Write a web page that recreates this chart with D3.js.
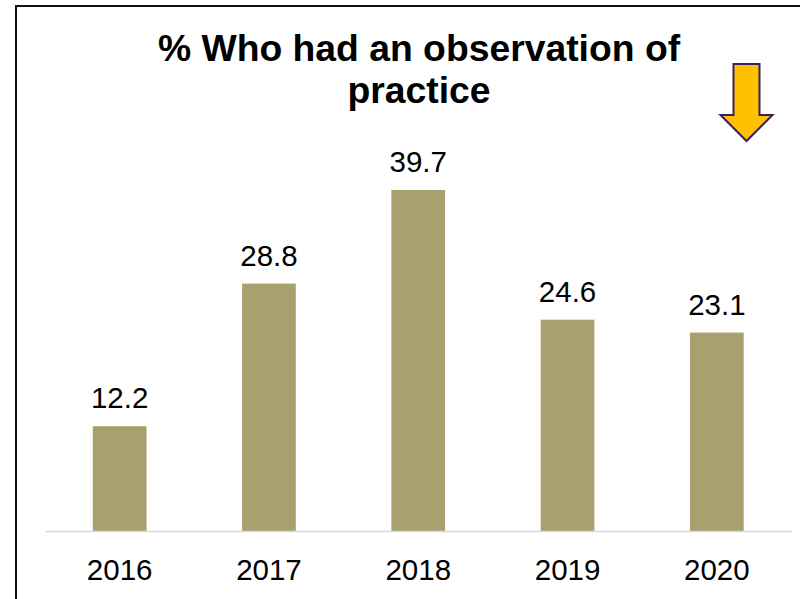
<!DOCTYPE html>
<html>
<head>
<meta charset="utf-8">
<script src="https://cdn.jsdelivr.net/npm/d3@7"></script>
<style>
  html, body { margin: 0; padding: 0; background: #fff; }
  svg { display: block; font-family: "Liberation Sans", Arial, sans-serif; }
</style>
</head>
<body>
<svg id="chart" width="800" height="599"></svg>
<script>
// Share of respondents who had an observation of practice, by year
const years = ["2016", "2017", "2018", "2019", "2020"];
const percentages = [12.2, 28.8, 39.7, 24.6, 23.1];
const titleLines = ["% Who had an observation of", "practice"];

const svg = d3.select("#chart");
const W = 800, H = 599;
const baseY = 531;

// Frame around the slide
svg.append("rect")
  .attr("x", 16).attr("y", 6)
  .attr("width", W).attr("height", H)
  .attr("fill", "none")
  .attr("stroke", "#111")
  .attr("stroke-width", 2);

const x = d3.scaleBand()
  .domain(years)
  .range([45, 791.5])
  .paddingInner(0.64)
  .paddingOuter(0.32);

const y = d3.scaleLinear()
  .domain([0, 40])
  .range([baseY, baseY - 40 * 8.59]);

// Title
svg.append("text")
  .attr("x", 419)
  .attr("text-anchor", "middle")
  .attr("font-weight", "bold")
  .attr("font-size", 37.3)
  .attr("fill", "#000")
  .selectAll("tspan")
  .data(titleLines)
  .join("tspan")
  .attr("x", 419)
  .attr("y", (d, i) => 61 + i * 42)
  .text(d => d);

// Bars
const data = years.map((yr, i) => ({ year: yr, value: percentages[i] }));

svg.append("g")
  .selectAll("rect")
  .data(data)
  .join("rect")
  .attr("x", d => x(d.year))
  .attr("y", d => y(d.value))
  .attr("width", x.bandwidth())
  .attr("height", d => y(0) - y(d.value))
  .attr("fill", "#A9A16D");

// Value labels
svg.append("g")
  .selectAll("text")
  .data(data)
  .join("text")
  .attr("x", d => x(d.year) + x.bandwidth() / 2)
  .attr("y", d => y(d.value) - 18)
  .attr("text-anchor", "middle")
  .attr("font-size", 29.5)
  .attr("fill", "#000")
  .text(d => d.value.toFixed(1));

// Category axis
const axis = svg.append("g")
  .attr("transform", `translate(0,${baseY})`)
  .call(d3.axisBottom(x).tickSize(0).tickSizeOuter(0));

axis.select(".domain")
  .attr("stroke", "#d9d9d9")
  .attr("stroke-width", 1.5);

axis.selectAll(".tick text")
  .attr("y", 49)
  .attr("dy", 0)
  .attr("font-size", 29.5)
  .attr("font-family", "Liberation Sans, Arial, sans-serif")
  .attr("fill", "#000");

// Downward trend arrow
const ax = 746.5;
const arrowPts = [
  [ax - 13, 64], [ax + 13, 64], [ax + 13, 115], [ax + 26, 115],
  [ax, 141], [ax - 26, 115], [ax - 13, 115]
];
svg.append("path")
  .attr("d", d3.line()(arrowPts) + "Z")
  .attr("fill", "#FFC000")
  .attr("stroke", "#3B1F5E")
  .attr("stroke-width", 2)
  .attr("stroke-linejoin", "miter");
</script>
</body>
</html>
